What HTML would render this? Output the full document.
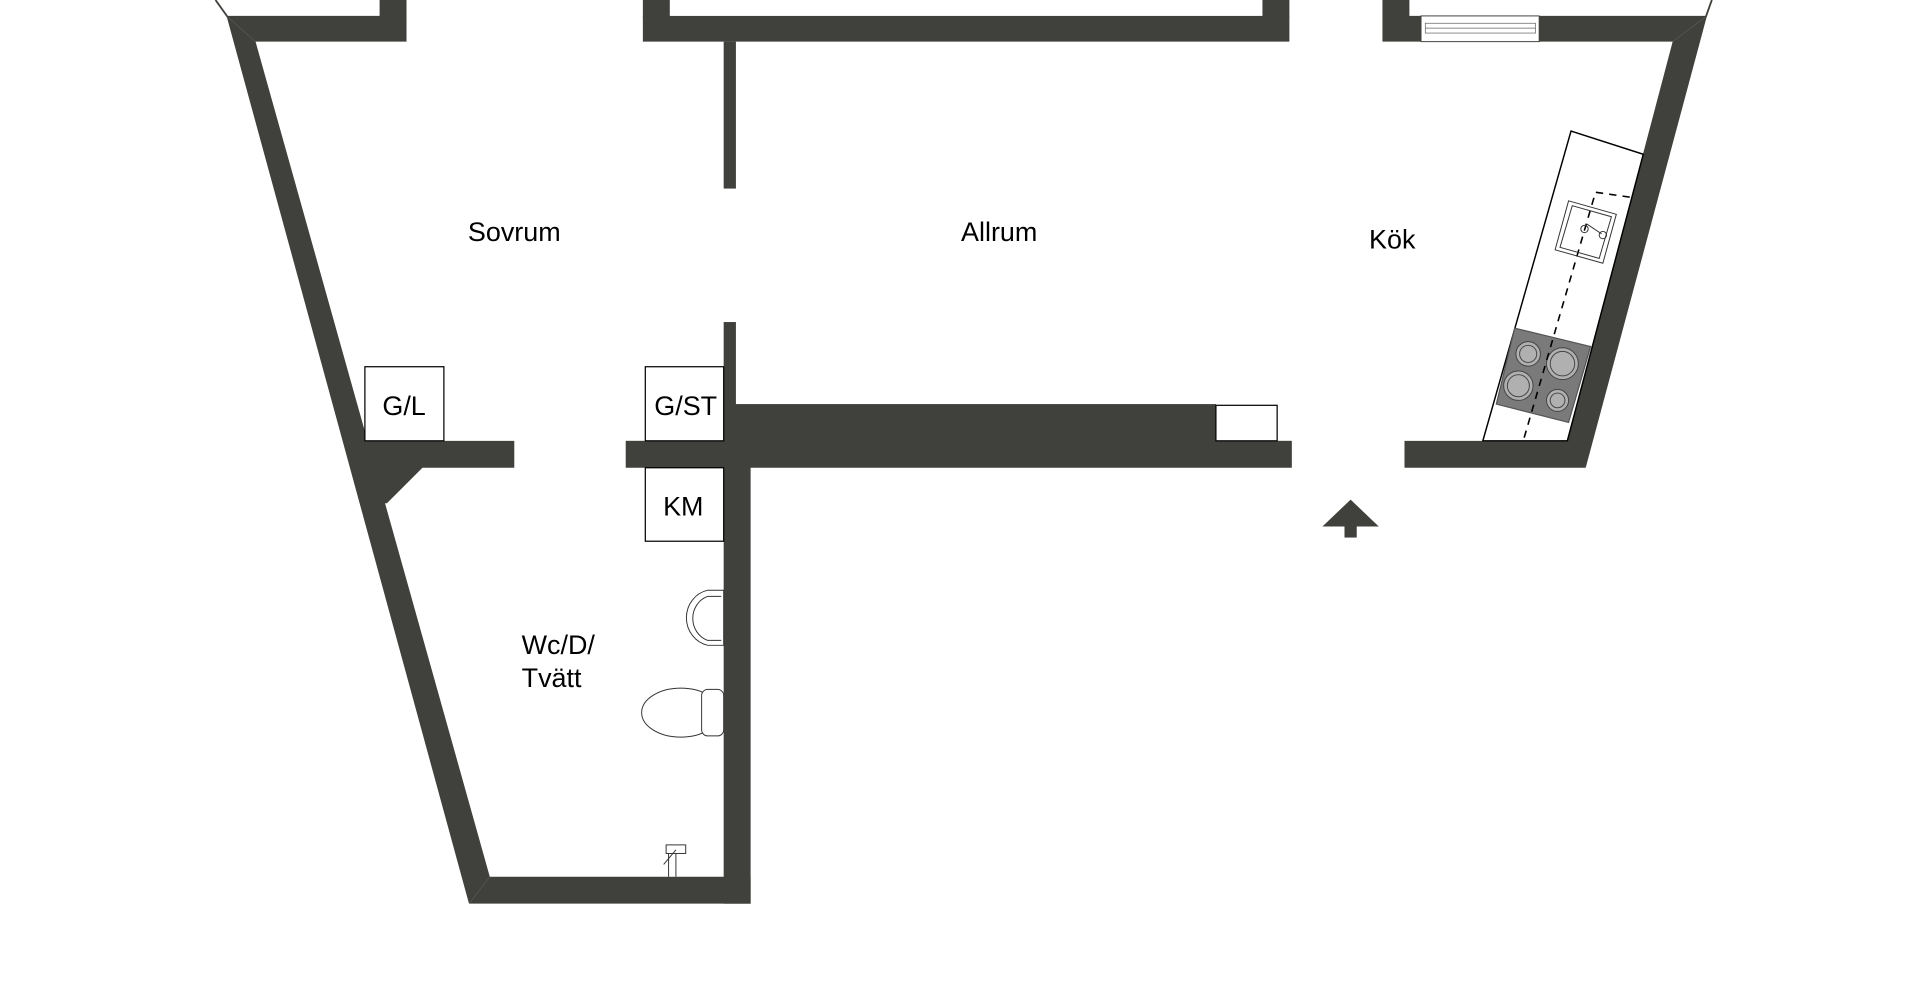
<!DOCTYPE html>
<html><head><meta charset="utf-8"><style>
html,body{margin:0;padding:0;background:#fff;}
svg{display:block;}
text{font-family:"Liberation Sans",Arial,sans-serif;font-size:22px;fill:#000;}
</style></head><body>
<svg width="1920" height="1000" viewBox="0 0 1568 816.67" preserveAspectRatio="none" xmlns="http://www.w3.org/2000/svg">
<g fill="#40413c">
<rect x="310" y="0" width="22" height="14"/>
<polygon points="185,13 332,13 332,34 208.7,34"/>
<line x1="176" y1="0" x2="186" y2="14" stroke="#40413c" stroke-width="1.5"/>
<polygon points="185,13 208.7,34 400,716 383,738"/>
<polygon points="383,738 613,738 613,716 400,716"/>
<polygon points="299,360 420,360 420,382 345,382 316,411 296,411"/>
<rect x="525" y="0" width="22" height="14"/>
<rect x="1031" y="0" width="22" height="14"/>
<rect x="525" y="13" width="528" height="21"/>
<rect x="591" y="34" width="10" height="120"/>
<rect x="591" y="263" width="10" height="100"/>
<rect x="511" y="360" width="544" height="22"/>
<rect x="591" y="330" width="402" height="32"/>
<rect x="591" y="360" width="22" height="378"/>
<rect x="1129" y="0" width="22" height="14"/>
<polygon points="1129,13 1394,13 1366,34 1129,34"/>
<line x1="1398" y1="0" x2="1393" y2="14" stroke="#40413c" stroke-width="1.5"/>
<polygon points="1394,13 1366,34 1280,360 1295,382"/>
<polygon points="1147,360 1282,360 1295,382 1147,382"/>
<polygon points="1080,430 1103,408 1126,430"/>
<rect x="1098" y="429" width="10" height="10"/>
</g>
<rect x="1160.5" y="13" width="96.5" height="21" fill="#fff" stroke="#40413c" stroke-width="0.8"/>
<rect x="1164" y="19" width="90" height="8" fill="none" stroke="#666" stroke-width="0.6"/>
<line x1="1164" y1="23" x2="1254" y2="23" stroke="#666" stroke-width="0.6"/>
<g fill="#fff" stroke="#000" stroke-width="1">
<rect x="298" y="299.5" width="64.5" height="60.5"/>
<rect x="527" y="299.5" width="64" height="60.5"/>
<rect x="527" y="382" width="64" height="60"/>
<rect x="993" y="331" width="50" height="29"/>
</g>
<polygon points="1283,107 1342,126 1280,360 1211,360" fill="#fff" stroke="#000" stroke-width="1.2"/>
<polygon points="1237,268 1299,283 1281,345 1222,330" fill="#7a7a7a" stroke="#555"/>
<g fill="#b0b0b0" stroke="#444" stroke-width="0.8">
<circle cx="1248" cy="289" r="10"/><circle cx="1248" cy="289" r="7"/>
<circle cx="1276" cy="297" r="13"/><circle cx="1276" cy="297" r="10"/>
<circle cx="1240" cy="315" r="12"/><circle cx="1240" cy="315" r="9"/>
<circle cx="1272" cy="327" r="9"/><circle cx="1272" cy="327" r="6"/>
</g>
<polyline points="1331,161 1303,157 1244,360" fill="none" stroke="#000" stroke-width="1.3" stroke-dasharray="6,5"/>
<g fill="none" stroke="#333" stroke-width="0.8">
<polygon points="1281,164 1320,175 1309,215 1270,204"/>
<polygon points="1284,168 1316,177 1306,211 1274,202"/>
<circle cx="1294" cy="187" r="3"/><circle cx="1309" cy="192" r="3"/><line x1="1296" y1="183" x2="1308" y2="191"/>
</g>
<g fill="#fff" stroke="#333" stroke-width="0.8">
<path d="M591,482 L578,482 A22,23 0 0 0 578,527 L591,527 Z"/>
<path d="M589,487 L578,487 A18,19 0 0 0 578,523 L589,523"/>
<ellipse cx="556" cy="582" rx="32" ry="20"/>
<rect x="573" y="563" width="18" height="38" rx="5"/>
<line x1="546" y1="697" x2="546" y2="716"/><line x1="552" y1="697" x2="552" y2="716"/>
<rect x="544" y="690" width="16" height="7"/>
<line x1="542" y1="706" x2="552" y2="694"/>
</g>
<text x="420" y="197" text-anchor="middle">Sovrum</text>
<text x="816" y="197" text-anchor="middle">Allrum</text>
<text x="1137" y="203" text-anchor="middle">Kök</text>
<text x="330" y="339" text-anchor="middle">G/L</text>
<text x="560" y="339" text-anchor="middle">G/ST</text>
<text x="558" y="421" text-anchor="middle">KM</text>
<text x="426" y="534">Wc/D/</text>
<text x="426" y="561">Tvätt</text>
</svg>
</body></html>
